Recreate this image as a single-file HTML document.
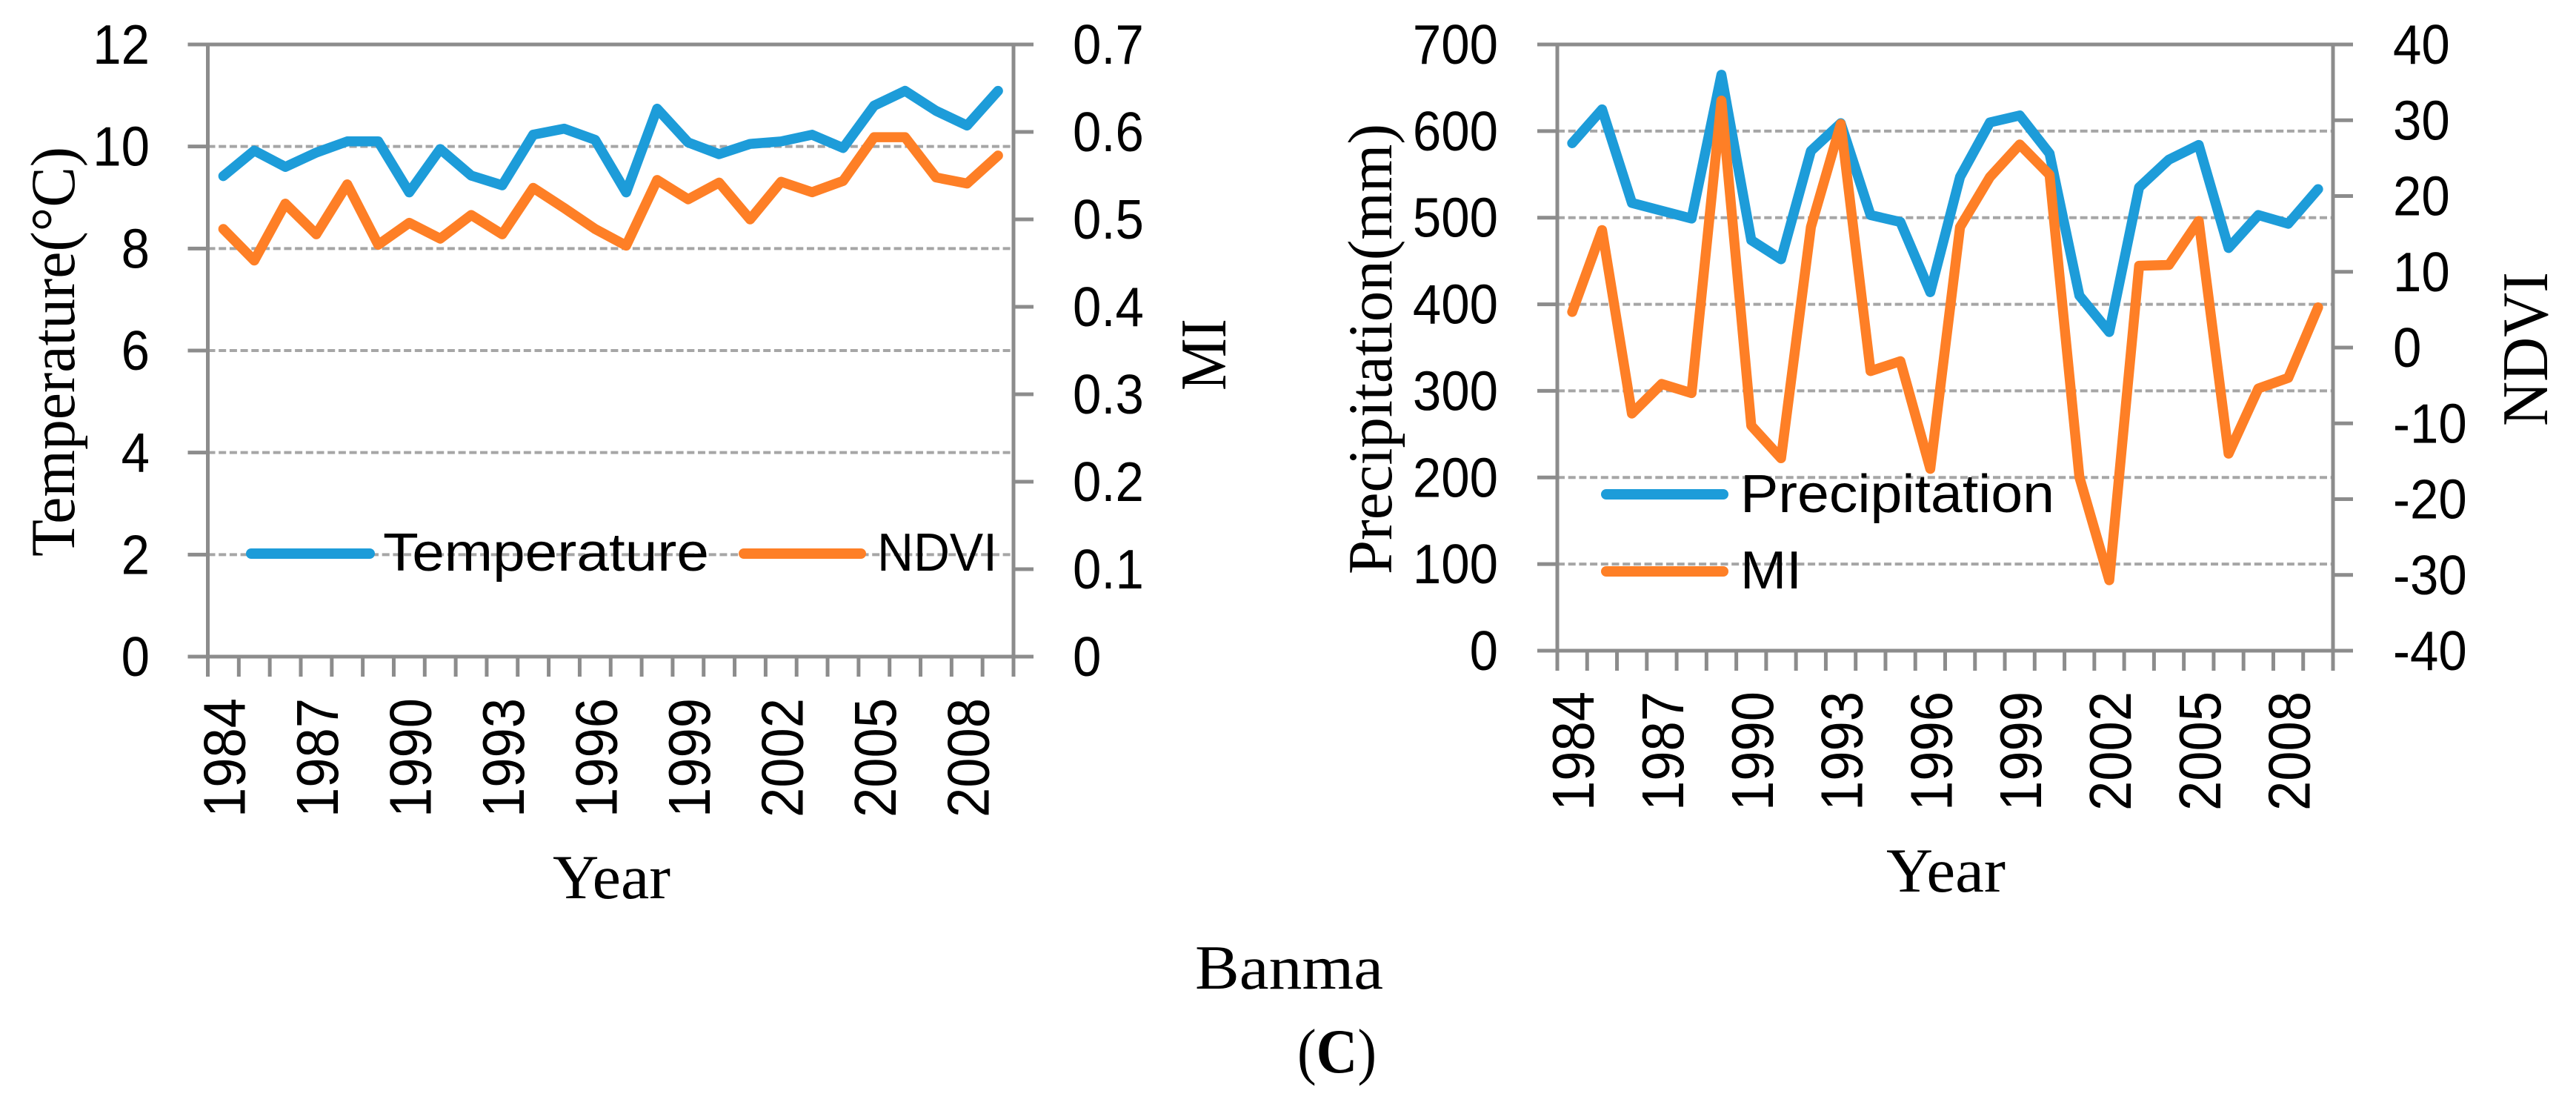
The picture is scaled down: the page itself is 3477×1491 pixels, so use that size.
<!DOCTYPE html>
<html>
<head>
<meta charset="utf-8">
<title>Banma climate charts</title>
<style>
html,body{margin:0;padding:0;background:#fff;width:3477px;height:1491px;overflow:hidden}
svg{display:block}
.serif{font-family:"Liberation Serif",serif;fill:#000}
.sans{font-family:"Liberation Sans",sans-serif;fill:#000}
</style>
</head>
<body>
<svg id="fig" xmlns="http://www.w3.org/2000/svg" width="3477" height="1491" viewBox="0 0 3477 1491">
  <rect x="0" y="0" width="3477" height="1491" fill="#fff"/>
  <g id="left-chart"></g>
  <g id="right-chart"></g>

  <text class="serif" transform="translate(100,751) rotate(-90)" font-size="85" textLength="553" lengthAdjust="spacingAndGlyphs">Temperature(°C)</text>
  <text class="serif" transform="translate(1654,527) rotate(-90)" font-size="88" textLength="97" lengthAdjust="spacingAndGlyphs">MI</text>
  <text class="serif" x="746" y="1212" font-size="85" textLength="159" lengthAdjust="spacingAndGlyphs">Year</text>

  <text class="serif" transform="translate(1878,775) rotate(-90)" font-size="85" textLength="608" lengthAdjust="spacingAndGlyphs">Precipitation(mm)</text>
  <text class="serif" transform="translate(3438,575) rotate(-90)" font-size="88" textLength="208" lengthAdjust="spacingAndGlyphs">NDVI</text>
  <text class="serif" x="2546" y="1203" font-size="85" textLength="161" lengthAdjust="spacingAndGlyphs">Year</text>

  <text class="serif" x="1613" y="1334" font-size="85" textLength="254" lengthAdjust="spacingAndGlyphs">Banma</text>
  <text class="serif" x="1751" y="1447" font-size="85" textLength="107" lengthAdjust="spacingAndGlyphs">(<tspan font-weight="bold">C</tspan>)</text>

  <g>
    <line x1="339" y1="747" x2="499" y2="747" stroke="#1d9cd9" stroke-width="14" stroke-linecap="round"/>
    <text class="sans" x="517" y="770" font-size="72" textLength="440" lengthAdjust="spacingAndGlyphs">Temperature</text>
    <line x1="1004" y1="747" x2="1162" y2="747" stroke="#fe7f26" stroke-width="14" stroke-linecap="round"/>
    <text class="sans" x="1184" y="770" font-size="72" textLength="162" lengthAdjust="spacingAndGlyphs">NDVI</text>
  </g>
  <g>
    <line x1="2168" y1="667" x2="2326" y2="667" stroke="#1d9cd9" stroke-width="14" stroke-linecap="round"/>
    <text class="sans" x="2349" y="691" font-size="72" textLength="424" lengthAdjust="spacingAndGlyphs">Precipitation</text>
    <line x1="2168" y1="771" x2="2326" y2="771" stroke="#fe7f26" stroke-width="14" stroke-linecap="round"/>
    <text class="sans" x="2349" y="794" font-size="72" textLength="83" lengthAdjust="spacingAndGlyphs">MI</text>
  </g>
</svg>
<script>
// ---- data ----
const years = [1984,1985,1986,1987,1988,1989,1990,1991,1992,1993,1994,1995,1996,1997,1998,1999,2000,2001,2002,2003,2004,2005,2006,2007,2008,2009];
const temperature = [9.42,9.92,9.6,9.88,10.1,10.1,9.1,9.95,9.43,9.24,10.23,10.35,10.13,9.1,10.74,10.08,9.85,10.05,10.1,10.23,9.97,10.8,11.09,10.7,10.41,11.09];
const ndvi = [0.489,0.453,0.518,0.483,0.54,0.471,0.496,0.478,0.505,0.483,0.536,0.513,0.489,0.47,0.545,0.523,0.542,0.5,0.543,0.531,0.544,0.594,0.594,0.548,0.541,0.573];
const precipitation = [586,625,517,508,499,665,474,452,577,609,503,495,414,547,610,618,574,410,368,535,567,584,465,503,493,533];
const mi = [4.7,15.5,-8.7,-4.8,-6,32.6,-10.3,-14.6,15.9,29.5,-3.1,-1.8,-16,15.9,22.5,26.8,22.8,-17.1,-30.7,10.8,10.9,16.7,-14,-5.4,-4,5.3];
const tempTicks = [0,2,4,6,8,10,12];
const ndviTickLabels = ['0','0.1','0.2','0.3','0.4','0.5','0.6','0.7'];
const precipTicks = [0,100,200,300,400,500,600,700];
const miTicks = [-40,-30,-20,-10,0,10,20,30,40];

const NS = 'http://www.w3.org/2000/svg';
const AXIS = '#8c8c8c';
const GRID = '#a6a6a6';
const BLUE = '#1d9cd9';
const ORANGE = '#fe7f26';

function mk(parent, tag, name, attrs, txt) {
  const el = document.createElementNS(NS, tag);
  
  
  for (const k in attrs) el.setAttribute(k, attrs[k]);
  if (txt !== undefined) el.textContent = txt;
  parent.appendChild(el);
  return el;
}

function drawChart(cfg) {
  const g = document.getElementById(cfg.id);
  const n = cfg.cats.length;
  const step = (cfg.x1 - cfg.x0) / n;
  const xBand = i => cfg.x0 + step * (i + 0.5);
  const yL = v => cfg.y1 - (v - cfg.lMin) / (cfg.lMax - cfg.lMin) * (cfg.y1 - cfg.y0);
  const yR = v => cfg.y1 - (v - cfg.rMin) / (cfg.rMax - cfg.rMin) * (cfg.y1 - cfg.y0);

  // gridlines
  cfg.lTicks.forEach(t => {
    if (t === cfg.lMin || t === cfg.lMax) return;
    mk(g, 'line', 'gridline-' + t, {x1: cfg.x0, x2: cfg.x1, y1: yL(t), y2: yL(t), stroke: GRID, 'stroke-width': 4, 'stroke-dasharray': '10 4.7'});
  });

  // axes frame
  mk(g, 'line', 'left-axis-line', {x1: cfg.x0, x2: cfg.x0, y1: cfg.y0, y2: cfg.y1, stroke: AXIS, 'stroke-width': 5});
  mk(g, 'line', 'right-axis-line', {x1: cfg.x1, x2: cfg.x1, y1: cfg.y0, y2: cfg.y1, stroke: AXIS, 'stroke-width': 5});
  mk(g, 'line', 'top-axis-line', {x1: cfg.x0 - cfg.tickLen, x2: cfg.x1 + cfg.tickLen, y1: cfg.y0, y2: cfg.y0, stroke: AXIS, 'stroke-width': 5});
  mk(g, 'line', 'x-axis-line', {x1: cfg.x0 - cfg.tickLen, x2: cfg.x1 + cfg.tickLen, y1: cfg.y1, y2: cfg.y1, stroke: AXIS, 'stroke-width': 5});

  // left ticks + labels
  cfg.lTicks.forEach(t => {
    mk(g, 'line', 'left-tick-' + t, {x1: cfg.x0 - cfg.tickLen, x2: cfg.x0, y1: yL(t), y2: yL(t), stroke: AXIS, 'stroke-width': 5});
    mk(g, 'text', 'left-tick-label-' + t, {class: 'sans', 'font-size': 75, 'text-anchor': 'end',
      transform: 'translate(' + cfg.lLabelX + ',' + (yL(t) + 26) + ') scale(.92,1)'}, String(t));
  });

  // right ticks + labels
  cfg.rTicks.forEach((t, i) => {
    const v = Number(t);
    mk(g, 'line', 'right-tick-' + t, {x1: cfg.x1, x2: cfg.x1 + cfg.tickLen, y1: yR(v), y2: yR(v), stroke: AXIS, 'stroke-width': 5});
    mk(g, 'text', 'right-tick-label-' + t, {class: 'sans', 'font-size': 75,
      transform: 'translate(' + cfg.rLabelX + ',' + (yR(v) + 26) + ') scale(.92,1)'}, String(t));
  });

  // x ticks
  for (let i = 0; i <= n; i++) {
    const x = cfg.x0 + step * i;
    mk(g, 'line', 'x-tick-' + i, {x1: x, x2: x, y1: cfg.y1, y2: cfg.y1 + 27, stroke: AXIS, 'stroke-width': 5});
  }

  // x labels
  cfg.cats.forEach((c, i) => {
    if (i % 3 !== 0) return;
    mk(g, 'text', 'x-tick-label-' + c, {class: 'sans', 'font-size': 80,
      transform: 'translate(' + (xBand(i) + 29) + ',' + cfg.xLabelStart + ') rotate(-90) scale(.905,1)'}, String(c));
  });

  // series
  const path = (vals, sc) => vals.map((v, i) => (i ? 'L' : 'M') + xBand(i).toFixed(1) + ' ' + sc(v).toFixed(1)).join(' ');
  mk(g, 'path', cfg.lName + '-line', {d: path(cfg.lVals, yL), fill: 'none', stroke: BLUE, 'stroke-width': 13.5, 'stroke-linejoin': 'round', 'stroke-linecap': 'round'});
  mk(g, 'path', cfg.rName + '-line', {d: path(cfg.rVals, yR), fill: 'none', stroke: ORANGE, 'stroke-width': 13.5, 'stroke-linejoin': 'round', 'stroke-linecap': 'round'});
}

drawChart({
  id: 'left-chart', cats: years, x0: 280.5, x1: 1368, y0: 60, y1: 886, tickLen: 27,
  lMin: 0, lMax: 12, rMin: 0, rMax: 0.7,
  lTicks: tempTicks, rTicks: ndviTickLabels,
  lLabelX: 202, rLabelX: 1448, xLabelStart: 1103,
  lVals: temperature, rVals: ndvi, lName: 'temperature', rName: 'ndvi'
});
drawChart({
  id: 'right-chart', cats: years, x0: 2102, x1: 3149, y0: 60, y1: 878, tickLen: 27,
  lMin: 0, lMax: 700, rMin: -40, rMax: 40,
  lTicks: precipTicks, rTicks: miTicks,
  lLabelX: 2022, rLabelX: 3230, xLabelStart: 1094,
  lVals: precipitation, rVals: mi, lName: 'precipitation', rName: 'mi'
});
</script>
</body>
</html>
